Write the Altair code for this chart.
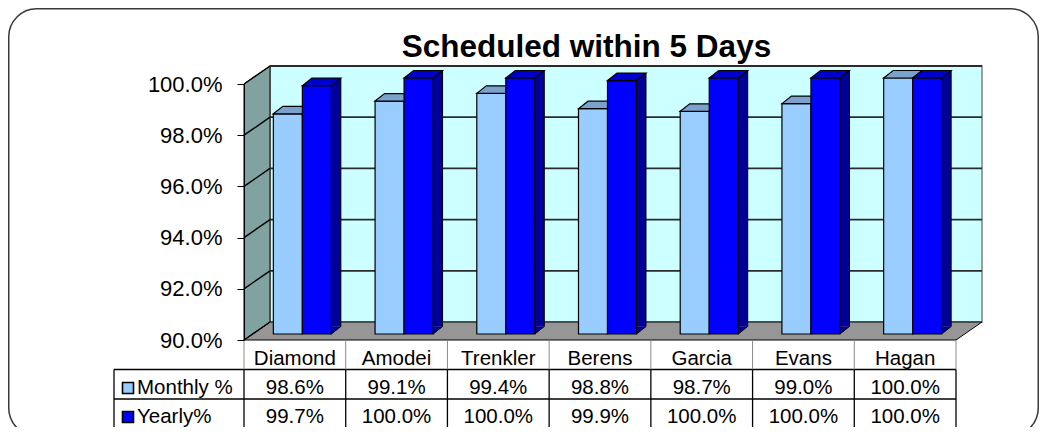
import altair as alt
import pandas as pd

# ---- data ----
cats = ["Diamond", "Amodei", "Trenkler", "Berens", "Garcia", "Evans", "Hagan"]
monthly = [98.6, 99.1, 99.4, 98.8, 98.7, 99.0, 100.0]
yearly = [99.7, 100.0, 100.0, 99.9, 100.0, 100.0, 100.0]
series_names = ["Monthly %", "Yearly%"]
y_ticks = [90, 92, 94, 96, 98, 100]
title_text = "Scheduled within 5 Days"

# ---- layout / style constants ----
W, H = 712, 256          # front plane of the 3-D box
DX, DY = 26, 18          # depth of the walls
BX, BY = 9.5, 7.5        # depth of the bars
SHIFT = -6               # bars sit a bit behind the front plane
BAR_W = 29
FONT = "Liberation Sans"
FS = 20.5

df = pd.DataFrame({"cat": cats, "monthly": monthly, "yearly": yearly})
df["base"] = 90
df["monthly_lbl"] = [f"{v:.1f}%" for v in monthly]
df["yearly_lbl"] = [f"{v:.1f}%" for v in yearly]
one = pd.DataFrame({"base": [90]})
grid = pd.DataFrame({"g": y_ticks})

xs = alt.Scale(type="band", domain=cats, paddingInner=0, paddingOuter=0)
ys = alt.Scale(domain=[90, 100], nice=False, zero=False)
yaxis = alt.Axis(values=y_ticks, labelExpr="format(datum.value, '.1f') + '%'",
                 title=None, grid=False, labelFont=FONT, labelFontSize=22,
                 labelColor="black", tickColor="black", tickSize=7,
                 domainColor="black", labelPadding=15, zindex=1)


def X(**kw):
    return alt.X("cat:N", scale=xs, axis=None, **kw)


def Y(field):
    return alt.Y(f"{field}:Q", scale=ys, axis=yaxis)


layers = []

# slide frame
layers.append(alt.Chart(one).mark_rect(fillOpacity=0, stroke="#3a3a3a", strokeWidth=1.5,
                                       cornerRadius=28).encode(
    x=alt.value(-235.25), x2=alt.value(794.25), y=alt.value(-75.25), y2=alt.value(352)))

# back wall
layers.append(alt.Chart(one).mark_rect(fill="#CCFFFF", stroke="#808080", strokeWidth=1.5).encode(
    x=alt.value(DX), x2=alt.value(W + DX), y=alt.value(-DY), y2=alt.value(H - DY)))

# floor
layers.append(alt.Chart(one).mark_point(
    shape=f"M0,0 L{W},0 L{W + DX},{-DY} L{DX},{-DY} Z", size=4, filled=True,
    fill="#969696", stroke="black", strokeWidth=1, opacity=1).encode(
    x=alt.value(0), y=Y("base")))

# left wall
layers.append(alt.Chart(one).mark_point(
    shape=f"M0,0 L0,{-H} L{DX},{-H - DY} L{DX},{-DY} Z", size=4, filled=True,
    fill="#80A2A0", stroke="black", strokeWidth=1, opacity=1).encode(
    x=alt.value(0), y=Y("base")))

# gridlines on back wall
layers.append(alt.Chart(grid[grid.g > 90]).mark_rule(
    color="#2b2b2b", strokeWidth=1.8, yOffset=-DY).encode(
    x=alt.value(DX), x2=alt.value(W + DX), y=Y("g")))

# gridlines on left wall (diagonals)
layers.append(alt.Chart(grid).mark_rule(
    color="black", strokeWidth=1.4, y2Offset=-DY).encode(
    x=alt.value(0), x2=alt.value(DX), y=Y("g"), y2=alt.Y2("g")))

# 3-D bars
series = [
    ("monthly", -7, "#99CCFF", "#7BA2CC", "#6A8DB8"),
    ("yearly", 22, "#0000FF", "#0000CC", "#000099"),
]
for field, xc, front, top, side in series:
    right = xc + BAR_W / 2
    left = xc - BAR_W / 2
    # side face body
    layers.append(alt.Chart(df).mark_bar(
        width=BX, xOffset=right + BX / 2, yOffset=SHIFT - BY, y2Offset=SHIFT - BY,
        fill=side, strokeWidth=0).encode(x=X(), y=Y(field), y2=alt.Y2("base")))
    # side face bottom triangle
    layers.append(alt.Chart(df).mark_point(
        shape=f"M0,0 L0,{-BY} L{BX},{-BY} Z", size=4, filled=True, fill=side,
        strokeWidth=0, opacity=1, xOffset=right, yOffset=SHIFT).encode(
        x=X(), y=Y("base")))
    # side face outlines
    layers.append(alt.Chart(df).mark_point(
        shape=f"M0,0 L{BX},{-BY}", size=4, filled=False, stroke="black",
        strokeWidth=1, opacity=1, xOffset=right, yOffset=SHIFT).encode(
        x=X(), y=Y("base")))
    layers.append(alt.Chart(df).mark_rule(
        color="black", strokeWidth=1, xOffset=right + BX,
        yOffset=SHIFT - BY, y2Offset=SHIFT - BY).encode(
        x=X(), y=Y(field), y2=alt.Y2("base")))
    # front face
    layers.append(alt.Chart(df).mark_bar(
        width=BAR_W, xOffset=xc, yOffset=SHIFT, y2Offset=SHIFT,
        fill=front, stroke="black", strokeWidth=1.2).encode(
        x=X(), y=Y(field), y2=alt.Y2("base")))
    # top face
    layers.append(alt.Chart(df).mark_point(
        shape=f"M0,0 L{BX},{-BY} L{BAR_W + BX},{-BY} L{BAR_W},0 Z", size=4,
        filled=True, fill=top, stroke="black", strokeWidth=1.2, opacity=1,
        xOffset=left, yOffset=SHIFT).encode(x=X(), y=Y(field)))

# ---- data table ----
ROW0, ROW1, ROW2, ROW3 = H, 285.5, 315, 360
TXT0, TXT1, TXT2 = 280.5, 309.5, 338.5
LEG_X = -130
# horizontal lines
for yy in (ROW1, ROW2):
    layers.append(alt.Chart(one).mark_rule(color="black", strokeWidth=1.3).encode(
        x=alt.value(LEG_X), x2=alt.value(W), y=alt.value(yy)))
# legend column left border
layers.append(alt.Chart(one).mark_rule(color="black", strokeWidth=1.3).encode(
    x=alt.value(LEG_X), y=alt.value(ROW1), y2=alt.value(ROW3)))
# column boundaries, header row (gray) and value rows (black)
layers.append(alt.Chart(df).mark_rule(color="#8a8a8a", strokeWidth=1).encode(
    x=X(bandPosition=0), y=alt.value(ROW0), y2=alt.value(ROW1)))
layers.append(alt.Chart(one).mark_rule(color="#8a8a8a", strokeWidth=1).encode(
    x=alt.value(W), y=alt.value(ROW0), y2=alt.value(ROW1)))
layers.append(alt.Chart(df).mark_rule(color="black", strokeWidth=1.3).encode(
    x=X(bandPosition=0), y=alt.value(ROW1), y2=alt.value(ROW3)))
layers.append(alt.Chart(one).mark_rule(color="black", strokeWidth=1.3).encode(
    x=alt.value(W), y=alt.value(ROW1), y2=alt.value(ROW3)))

# table texts
txt = dict(font=FONT, fontSize=FS, color="black", baseline="alphabetic", align="center")
layers.append(alt.Chart(df).mark_text(**txt).encode(x=X(), y=alt.value(TXT0), text="cat:N"))
layers.append(alt.Chart(df).mark_text(**txt).encode(x=X(), y=alt.value(TXT1), text="monthly_lbl:N"))
layers.append(alt.Chart(df).mark_text(**txt).encode(x=X(), y=alt.value(TXT2), text="yearly_lbl:N"))

# legend keys inside the table
leg = pd.DataFrame({"name": series_names})
for i, (color, ytxt) in enumerate([("#99CCFF", TXT1), ("#0000FF", TXT2)]):
    layers.append(alt.Chart(leg.iloc[[i]]).mark_square(
        size=121, filled=True, fill=color, stroke="black", strokeWidth=1.6, opacity=1).encode(
        x=alt.value(-116), y=alt.value(ytxt - 5.5)))
    layers.append(alt.Chart(leg.iloc[[i]]).mark_text(
        font=FONT, fontSize=FS, color="black", baseline="alphabetic", align="left").encode(
        x=alt.value(-107), y=alt.value(ytxt), text="name:N"))

# title
layers.append(alt.Chart(one).mark_text(
    text=title_text, font=FONT, fontSize=31.5, fontWeight="bold", color="black",
    align="center", baseline="alphabetic").encode(x=alt.value(342.5), y=alt.value(-27)))

chart = alt.layer(*layers).properties(
    width=W, height=H,
    padding={"left": 236, "top": 76, "right": 83, "bottom": 87},
    autosize=alt.AutoSizeParams(type="none"),
    background="white",
).configure_view(strokeWidth=0)

chart.save("out.html", embed_options={"renderer": "svg", "actions": False})
